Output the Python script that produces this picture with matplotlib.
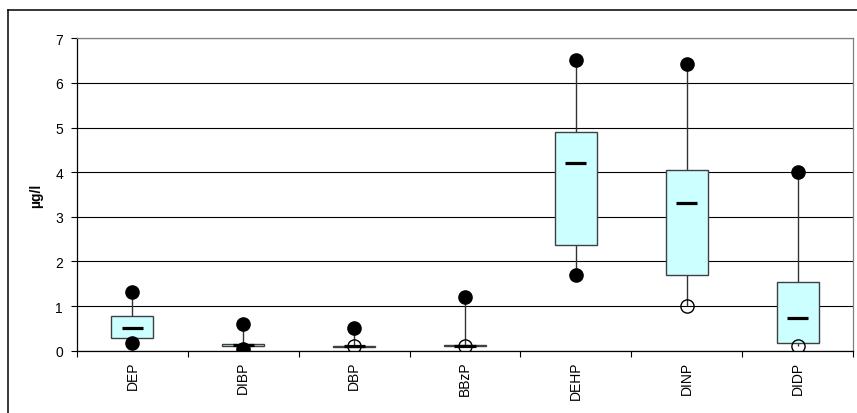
import numpy as np
import matplotlib
matplotlib.use("Agg")
import matplotlib.pyplot as plt
from matplotlib.lines import Line2D

# phthalate concentrations
categories = ['DEP', 'DIBP', 'DBP', 'BBzP', 'DEHP', 'DINP', 'DIDP']
q1 = [0.28, 0.11, 0.09, 0.10, 2.37, 1.69, 0.18]
q3 = [0.77, 0.15, 0.11, 0.12, 4.90, 4.06, 1.53]
median = [0.50, 0.12, 0.10, 0.11, 4.21, 3.30, 0.73]
vmin = [0.18, 0.03, 0.10, 0.10, 1.70, 1.01, 0.11]
vmax = [1.32, 0.60, 0.51, 1.21, 6.52, 6.43, 4.01]
min_filled = [True, True, False, False, True, False, False]

plt.rcParams['font.family'] = ['Liberation Sans', 'DejaVu Sans']
plt.rcParams['font.size'] = 10

W, H = 857, 414
fig = plt.figure(figsize=(W / 100, H / 100), dpi=100)
ax = fig.add_axes([77 / W, 1 - 351.7 / H, 776 / W, 312.4 / H])

x = np.arange(len(categories))
box_w = 0.38
med_w = 0.19

# grid first so everything sits on top
ax.set_axisbelow(True)
ax.yaxis.grid(True, color='black', linewidth=0.8)

# whiskers run from min to max behind the boxes
ax.vlines(x, vmin, vmax, color='#333333', linewidth=1, zorder=2)
ax.bar(x, np.array(q3) - np.array(q1), bottom=q1, width=box_w,
       color='#ccffff', edgecolor='#404040', linewidth=1, zorder=3)
ax.hlines(median, x - med_w / 2, x + med_w / 2, color='black', linewidth=2.3, zorder=4)

# max always filled, min filled or open
ax.plot(x, vmax, 'o', color='black', markersize=9.5, zorder=5)
for xi, v, filled in zip(x, vmin, min_filled):
    if filled:
        ax.plot(xi, v, 'o', color='black', markersize=9.5, zorder=5)
    else:
        ax.plot(xi, v, 'o', markerfacecolor='none', markeredgecolor='black',
                markeredgewidth=1, markersize=9.5, zorder=5)

ax.set_xlim(-0.5, len(categories) - 0.5)
ax.set_ylim(0, 7)
ax.set_yticks(range(0, 8))
ax.set_xticks(x)
ax.set_xticklabels(categories, rotation=90)
ax.set_xticks(np.arange(-0.5, len(categories), 1), minor=True)
ax.tick_params(axis='x', which='major', length=0, pad=7)
ax.tick_params(axis='x', which='minor', length=4, width=0.8, direction='out')
ax.tick_params(axis='y', length=4, width=0.8, direction='out', pad=6)

ax.set_ylabel('µg/l', fontweight='bold')
ax.yaxis.set_label_coords(-0.044, 0.5)

for sp in ['left', 'bottom']:
    ax.spines[sp].set_color('black')
    ax.spines[sp].set_linewidth(0.9)
for sp in ['top', 'right']:
    ax.spines[sp].set_color('#808080')
    ax.spines[sp].set_linewidth(0.9)

# outer chart frame (right and bottom edges fall off the image)
fig.add_artist(Line2D([8 / W, 8 / W], [0, 1 - 11 / H], transform=fig.transFigure,
                      color='black', linewidth=1.1))
fig.add_artist(Line2D([8 / W, 1], [1 - 11 / H, 1 - 11 / H], transform=fig.transFigure,
                      color='black', linewidth=1.1))

fig.savefig('out.png', dpi=100)
